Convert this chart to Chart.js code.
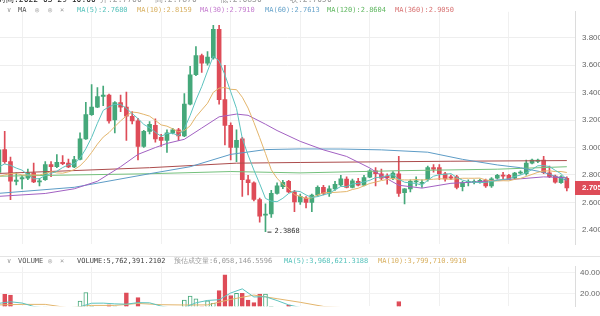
<!DOCTYPE html>
<html>
<head>
<meta charset="utf-8">
<script src="https://cdn.jsdelivr.net/npm/chart.js@4.4.1/dist/chart.umd.min.js"></script>
<style>
body{margin:0;width:600px;height:316px;overflow:hidden;position:relative;background:#fff;font-family:"DejaVu Sans Mono",monospace}
canvas{position:absolute;left:0}
#price{top:0}
#vol{top:257px}
#sep{position:absolute;left:0;top:256px;width:600px;height:1px;background:#e4e4e4}
.t{position:absolute;font-size:7px;line-height:10px;white-space:nowrap}
.g{color:#999}
</style>
</head>
<body>
<canvas id="price" width="600" height="256"></canvas>
<div id="sep"></div>
<canvas id="vol" width="600" height="59"></canvas>

<div class="t" style="top:-5px;left:-2px;color:#222;font-size:8px">时间:2022-03-29 10:00</div>
<div class="t g" style="top:-5px;left:100px;font-size:8px">开:2.7760</div>
<div class="t g" style="top:-5px;left:155px;font-size:8px">高:2.7870</div>
<div class="t g" style="top:-5px;left:220px;font-size:8px">低:2.6830</div>
<div class="t g" style="top:-5px;left:290px;font-size:8px">收:2.7050</div>

<div class="t g" style="top:5px;left:7px">∨</div>
<div class="t" style="top:5px;left:18px;color:#555">MA</div>
<div class="t g" style="top:5px;left:35px">◎</div>
<div class="t g" style="top:5px;left:48px">◎</div>
<div class="t g" style="top:5px;left:60px">×</div>
<div class="t" style="top:5px;left:77px;color:#55c2bb">MA(5):2.7680</div>
<div class="t" style="top:5px;left:137px;color:#d8b060">MA(10):2.8159</div>
<div class="t" style="top:5px;left:200px;color:#c57ccf">MA(30):2.7910</div>
<div class="t" style="top:5px;left:265px;color:#68a4cb">MA(60):2.7613</div>
<div class="t" style="top:5px;left:327px;color:#5fb760">MA(120):2.8604</div>
<div class="t" style="top:5px;left:395px;color:#d97474">MA(360):2.9050</div>

<div class="t g" style="top:256px;left:7px">∨</div>
<div class="t" style="top:256px;left:18px;color:#555">VOLUME</div>
<div class="t g" style="top:256px;left:48px">◎</div>
<div class="t g" style="top:256px;left:60px">×</div>
<div class="t" style="top:256px;left:77px;color:#444">VOLUME:5,762,391.2102</div>
<div class="t g" style="top:256px;left:174px">预估成交量:6,058,146.5596</div>
<div class="t" style="top:256px;left:284px;color:#55c2bb">MA(5):3,968,621.3188</div>
<div class="t" style="top:256px;left:378px;color:#d8b060">MA(10):3,799,710.9910</div>

<script>
// candles, oldest first
const open = [2.818,2.985,2.897,2.752,2.771,2.776,2.816,2.750,2.765,2.875,
  2.860,2.893,2.886,2.858,2.913,3.063,3.240,3.295,3.372,3.383,
  3.202,3.328,3.295,3.228,3.195,3.008,3.118,3.162,3.074,3.052,
  3.107,3.129,3.085,3.317,3.531,3.670,3.615,3.654,3.862,3.350,
  3.162,3.001,3.063,2.765,2.743,2.621,2.507,2.515,2.666,2.714,
  2.754,2.677,2.604,2.632,2.599,2.654,2.710,2.666,2.699,2.727,
  2.770,2.710,2.754,2.725,2.783,2.831,2.809,2.791,2.776,2.809,
  2.670,2.699,2.750,2.738,2.765,2.853,2.853,2.809,2.787,2.787,
  2.714,2.743,2.745,2.750,2.760,2.720,2.776,2.798,2.798,2.776,
  2.813,2.809,2.886,2.898,2.909,2.816,2.791,2.743,2.776];
const high = [2.990,3.118,2.930,2.816,2.798,2.842,2.886,2.776,2.897,2.897,
  2.948,2.942,2.915,2.935,3.107,3.330,3.460,3.438,3.449,3.390,
  3.335,3.383,3.405,3.262,3.213,3.125,3.189,3.210,3.096,3.129,
  3.140,3.140,3.394,3.593,3.736,3.681,3.700,3.891,3.891,3.600,
  3.180,3.129,3.074,2.798,2.750,2.632,2.590,2.687,2.743,2.760,
  2.760,2.687,2.660,2.643,2.660,2.720,2.725,2.720,2.754,2.798,
  2.787,2.770,2.776,2.798,2.840,2.853,2.842,2.809,2.825,2.935,
  2.700,2.765,2.787,2.765,2.864,2.875,2.875,2.820,2.800,2.798,
  2.754,2.765,2.765,2.770,2.770,2.780,2.805,2.820,2.805,2.820,
  2.830,2.909,2.915,2.915,2.935,2.864,2.800,2.795,2.787];
const low = [2.810,2.884,2.619,2.727,2.699,2.765,2.743,2.720,2.760,2.787,
  2.853,2.875,2.853,2.853,2.909,3.060,3.235,3.290,3.306,3.177,
  3.107,3.262,3.052,3.173,2.909,3.000,3.100,3.040,3.008,2.964,
  3.100,3.052,3.080,3.310,3.525,3.548,3.600,3.645,3.317,3.020,
  2.909,2.897,2.644,2.655,2.610,2.456,2.3868,2.490,2.660,2.700,
  2.670,2.533,2.586,2.560,2.533,2.645,2.654,2.644,2.687,2.720,
  2.705,2.705,2.720,2.720,2.780,2.720,2.765,2.732,2.765,2.644,
  2.588,2.677,2.720,2.710,2.754,2.820,2.765,2.754,2.765,2.699,
  2.683,2.720,2.735,2.740,2.710,2.710,2.770,2.765,2.765,2.770,
  2.805,2.798,2.880,2.890,2.810,2.780,2.740,2.738,2.683];
const close = [2.983,2.897,2.754,2.762,2.780,2.816,2.750,2.758,2.875,2.860,
  2.893,2.882,2.858,2.913,3.063,3.240,3.295,3.372,3.383,3.195,
  3.328,3.295,3.228,3.195,3.008,3.118,3.169,3.063,3.052,3.107,
  3.129,3.085,3.317,3.531,3.670,3.615,3.659,3.862,3.350,3.162,
  3.001,3.052,2.765,2.743,2.621,2.500,2.515,2.666,2.721,2.747,
  2.677,2.604,2.644,2.599,2.654,2.710,2.666,2.699,2.732,2.772,
  2.710,2.758,2.725,2.780,2.831,2.809,2.776,2.780,2.813,2.666,
  2.699,2.754,2.758,2.747,2.853,2.842,2.809,2.772,2.776,2.710,
  2.743,2.754,2.754,2.760,2.720,2.772,2.798,2.791,2.772,2.813,
  2.820,2.886,2.909,2.909,2.816,2.787,2.747,2.787,2.705];
// volume, millions
const volume = [6.5,19.2,18.5,5.5,4.8,6.0,7.0,4.5,7.2,5.0,
  6.1,4.2,5.3,6.8,12.7,20.8,7.5,7.0,6.0,9.0,
  7.3,5.8,20.6,6.5,16.1,7.0,6.4,5.2,4.6,5.9,
  4.1,4.8,13.7,17.4,14.8,7.4,12.9,10.5,22.8,38.1,
  18.1,20.2,20.2,13.7,11.2,19.5,19.5,7.5,6.8,5.6,
  8.8,6.9,5.1,4.4,5.8,6.2,4.9,4.1,5.3,6.0,
  4.6,5.2,4.0,5.5,6.3,5.0,4.7,4.2,5.1,12.3,
  6.6,5.4,4.3,3.9,6.1,5.2,4.4,4.0,3.7,5.6,
  4.2,3.6,3.3,3.8,4.5,4.0,4.9,3.5,3.9,4.1,
  3.6,5.4,4.8,3.9,4.6,4.0,3.5,3.4,5.76];

const ma5 = [2.86,2.88,2.87,2.85,2.835,2.802,2.772,2.773,2.796,2.812,
  2.827,2.854,2.874,2.881,2.922,2.991,3.074,3.177,3.271,3.297,
  3.315,3.315,3.286,3.248,3.211,3.169,3.144,3.111,3.082,3.102,
  3.104,3.087,3.138,3.234,3.346,3.444,3.558,3.667,3.631,3.530,
  3.407,3.285,3.066,2.945,2.836,2.736,2.629,2.609,2.605,2.630,
  2.665,2.683,2.679,2.654,2.636,2.642,2.655,2.666,2.692,2.716,
  2.716,2.734,2.739,2.749,2.761,2.781,2.784,2.795,2.802,2.769,
  2.747,2.742,2.738,2.725,2.762,2.791,2.802,2.805,2.810,2.782,
  2.762,2.751,2.747,2.744,2.746,2.752,2.761,2.768,2.771,2.789,
  2.799,2.816,2.840,2.867,2.868,2.861,2.834,2.809,2.768];
const ma10 = [2.79,2.80,2.81,2.81,2.80,2.80,2.80,2.80,2.81,2.824,
  2.815,2.813,2.823,2.839,2.867,2.909,2.964,3.025,3.076,3.109,
  3.153,3.194,3.231,3.259,3.254,3.242,3.229,3.198,3.165,3.156,
  3.136,3.115,3.124,3.158,3.224,3.274,3.323,3.403,3.433,3.438,
  3.425,3.422,3.367,3.288,3.183,3.072,2.957,2.838,2.775,2.733,
  2.701,2.656,2.644,2.629,2.633,2.654,2.669,2.672,2.673,2.676,
  2.679,2.694,2.703,2.721,2.738,2.748,2.759,2.767,2.775,2.765,
  2.764,2.763,2.767,2.763,2.766,2.769,2.772,2.771,2.768,2.772,
  2.776,2.776,2.776,2.777,2.764,2.757,2.756,2.758,2.757,2.768,
  2.775,2.789,2.804,2.819,2.829,2.830,2.825,2.825,2.818];
// slower averages, read at a few candles
const ma30At = [0,8,13,17,21,24,27,29,32,35,38,41,43,46,48,52,56,60,64,66,69,73,78,82,86,90,94,98];
const ma30 = [2.644,2.665,2.699,2.754,2.86,2.95,3.00,3.03,3.06,3.142,3.224,3.244,3.235,3.17,3.124,3.045,2.983,2.935,2.851,2.795,2.725,2.704,2.739,2.748,2.762,2.772,2.786,2.781];
const ma60At = [0,13,26,33,40,46,52,59,66,74,80,86,90,94,98];
const ma60 = [2.666,2.71,2.809,2.86,2.95,2.985,2.99,2.989,2.983,2.966,2.914,2.873,2.853,2.819,2.761];
const ma120At = [0,26,40,52,69,86,98];
const ma120 = [2.791,2.809,2.825,2.815,2.831,2.842,2.860];
const ma360At = [0,26,41,52,78,98];
const ma360 = [2.811,2.853,2.886,2.891,2.900,2.905];
const volMa5At = [0,2,4,6,8,10,12,14,16,18,20,22,24,26,28,30,32,34,36,38,40,42,44,46,48,50,52,56,66,69,72,76,86,98];
const volMa5 = [10.5,12.0,10.8,7.5,6.0,5.9,5.5,7.2,10.6,10.7,10.0,9.7,11.2,11.0,7.8,5.6,6.5,11.0,13.3,14.0,20.5,24.5,16.7,16.9,13.2,9.0,6.5,5.0,5.0,6.5,6.0,4.5,4.2,3.97];
const volMa10At = [0,4,8,12,16,20,24,28,32,36,40,44,48,52,56,62,70,80,98];
const volMa10 = [9.0,9.5,9.5,6.2,8.5,8.5,10.4,9.2,8.9,9.0,14.3,18.5,15.0,11.5,7.5,5.5,5.8,5.0,3.80];

const priceTicks = [2.4,2.6,2.8,3.0,3.2,3.4,3.6,3.8];
const volTicks = [20,40];
const gridAt = [4,16,28,40,52,64,76,88];

const UP = '#45a87a', DOWN = '#de4c58';
const idx = open.map((_, i) => i);
const isUp = i => close[i] >= open[i];
const candleColors = idx.map(i => isUp(i) ? UP : DOWN);
const lowIndex = 46;

function line(label, at, values, color) {
  return {
    type: 'line', label,
    data: at.map((j, k) => ({x: j, y: values[k]})),
    borderColor: color, borderWidth: 1, pointRadius: 0, tension: 0, order: 0
  };
}

const xAxis = {
  type: 'linear', min: 0.19, max: 99.41, offset: false,
  ticks: {display: false},
  grid: {color: '#f0f0f0', drawTicks: false, offset: false},
  border: {display: false},
  afterBuildTicks: s => { s.ticks = gridAt.map(v => ({value: v})); },
  afterFit: s => { s.height = 0; }
};

const priceMarks = {
  id: 'priceMarks',
  afterDatasetsDraw(chart) {
    const {ctx, chartArea, scales} = chart;
    const last = close[close.length - 1];
    const y = scales.y.getPixelForValue(last);
    ctx.save();
    ctx.fillStyle = DOWN;
    ctx.fillRect(chartArea.right, y - 7, 30, 14);
    ctx.fillStyle = '#fff';
    ctx.font = 'bold 8px "Liberation Sans"';
    ctx.textBaseline = 'middle';
    ctx.fillText(last.toFixed(3), chartArea.right + 7, y);
    // lowest point
    const lx = scales.x.getPixelForValue(lowIndex);
    const ly = scales.y.getPixelForValue(low[lowIndex]);
    ctx.strokeStyle = '#333';
    ctx.beginPath();
    ctx.moveTo(lx + 2, ly + 0.5);
    ctx.lineTo(lx + 6, ly + 0.5);
    ctx.stroke();
    ctx.fillStyle = '#333';
    ctx.font = '7px "DejaVu Sans Mono"';
    ctx.fillText(low[lowIndex].toFixed(4), lx + 9, ly);
    ctx.restore();
  }
};

new Chart(document.getElementById('price'), {
  type: 'bar',
  data: {
    datasets: [
      line('MA5', idx, ma5, '#5cc3bf'),
      line('MA10', idx, ma10, '#e3b56c'),
      line('MA30', ma30At, ma30, '#a261c2'),
      line('MA60', ma60At, ma60, '#5d9cc6'),
      line('MA120', ma120At, ma120, '#74c07c'),
      line('MA360', ma360At, ma360, '#ac4c4c'),
      {
        type: 'bar', label: 'body',
        data: idx.map(i => ({x: i, y: [open[i], close[i]]})),
        backgroundColor: candleColors, barThickness: 4, minBarLength: 1,
        grouped: false, order: 5
      },
      {
        type: 'bar', label: 'wick',
        data: idx.map(i => ({x: i, y: [low[i], high[i]]})),
        backgroundColor: candleColors, barThickness: 1,
        grouped: false, order: 6
      }
    ]
  },
  options: {
    responsive: false, animation: false, devicePixelRatio: 1,
    layout: {padding: 0},
    plugins: {legend: {display: false}, tooltip: {enabled: false}},
    scales: {
      x: xAxis,
      y: {
        position: 'right', min: 2.295, max: 3.99,
        grid: {color: '#eeeeee', drawTicks: false},
        border: {display: true, color: '#dcdcdc'},
        ticks: {color: '#666', padding: 7, font: {size: 8, family: 'Liberation Sans'},
          callback: v => v.toFixed(4)},
        afterBuildTicks: s => { s.ticks = priceTicks.map(v => ({value: v})); },
        afterFit: s => { s.width = 25; }
      }
    }
  },
  plugins: [priceMarks]
});

new Chart(document.getElementById('vol'), {
  type: 'bar',
  data: {
    datasets: [
      line('MA5', volMa5At, volMa5, '#5cc3bf'),
      line('MA10', volMa10At, volMa10, '#e3b56c'),
      {
        type: 'bar', label: 'volume',
        data: idx.map(i => ({x: i, y: volume[i]})),
        backgroundColor: idx.map(i => isUp(i) ? '#ffffff' : DOWN),
        borderColor: idx.map(i => isUp(i) ? UP : DOWN),
        borderWidth: 1, barThickness: 4, grouped: false, order: 5
      }
    ]
  },
  options: {
    responsive: false, animation: false, devicePixelRatio: 1,
    layout: {padding: 0},
    plugins: {legend: {display: false}, tooltip: {enabled: false}},
    scales: {
      x: xAxis,
      y: {
        position: 'right', min: 7.74, max: 45.81,
        grid: {color: '#f2f2f2', drawTicks: false},
        border: {display: true, color: '#dcdcdc'},
        ticks: {color: '#666', padding: 5, font: {size: 8, family: 'Liberation Sans'},
          callback: v => v.toFixed(2) + 'M'},
        afterBuildTicks: s => { s.ticks = volTicks.map(v => ({value: v})); },
        afterFit: s => { s.width = 25; }
      }
    }
  }
});
</script>
</body>
</html>
